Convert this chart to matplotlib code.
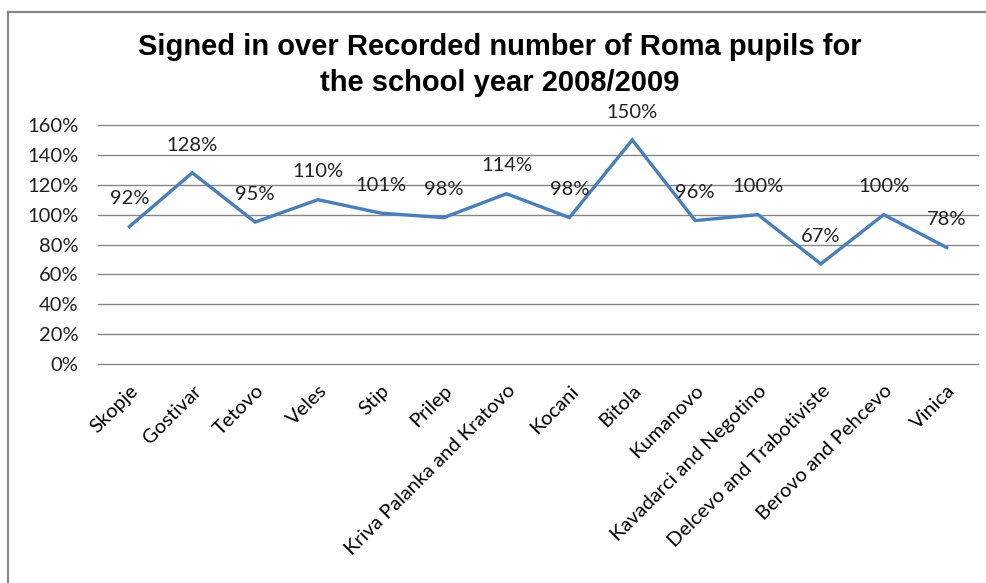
import matplotlib
matplotlib.use("Agg")
import matplotlib.pyplot as plt
from matplotlib.lines import Line2D
from matplotlib.ticker import FuncFormatter

categories = ["Skopje", "Gostivar", "Tetovo", "Veles", "Stip", "Prilep",
              "Kriva Palanka and Kratovo", "Kocani", "Bitola", "Kumanovo",
              "Kavadarci and Negotino", "Delcevo and Trabotiviste",
              "Berovo and Pehcevo", "Vinica"]
values = [92, 128, 95, 110, 101, 98, 114, 98, 150, 96, 100, 67, 100, 78]
yticks = [0, 20, 40, 60, 80, 100, 120, 140, 160]
title = "Signed in over Recorded number of Roma pupils for\nthe school year 2008/2009"

W, H = 987, 583
fig = plt.figure(figsize=(W / 100, H / 100), dpi=100)
fig.patch.set_facecolor("white")

FONT = "Lato"
FS = 14.5

# axes: x 98..978, y 125..364 (pixels from top)
ax = fig.add_axes([98 / W, 1 - 364 / H, (978 - 98) / W, (364 - 125) / H])
x = list(range(len(categories)))
ax.plot(x, values, color="#4A7EBB", lw=2.4, solid_joinstyle="miter", zorder=3)
ax.set_xlim(-0.5, len(categories) - 0.5)
ax.set_ylim(0, 160)
ax.set_yticks(yticks)
ax.yaxis.set_major_formatter(FuncFormatter(lambda v, p: f"{int(v)}%"))
ax.grid(axis="y", color="#868686", lw=1)
for gl in ax.get_ygridlines():
    gl.set_clip_on(False)
ax.set_axisbelow(True)
for s in ax.spines.values():
    s.set_visible(False)
ax.tick_params(axis="both", length=0)
ax.tick_params(axis="y", pad=14, labelsize=FS, labelcolor="#222222")
ax.set_xticks(x)
ax.set_xticklabels(categories, rotation=45, ha="right", rotation_mode="anchor",
                   fontsize=FS, family=FONT)
ax.tick_params(axis="x", pad=13)
for lab in ax.get_yticklabels():
    lab.set_family(FONT)

for xi, v in zip(x, values):
    ax.annotate(f"{v}%", (xi, v), xytext=(0, 20), textcoords="offset points",
                ha="center", va="center", fontsize=FS, family=FONT,
                color="#222222")

fig.text(500 / W, 1 - 65 / H, title, ha="center", va="center",
         fontsize=21, fontweight="bold", family="Liberation Sans",
         linespacing=1.4)

# outer frame
fig.add_artist(Line2D([8 / W, 8 / W], [0, 1 - 12 / H], color="#888888", lw=1.6,
                      transform=fig.transFigure))
fig.add_artist(Line2D([8 / W, 1], [1 - 12 / H, 1 - 12 / H], color="#888888", lw=1.6,
                      transform=fig.transFigure))

fig.savefig("out.png", dpi=100, facecolor="white")
